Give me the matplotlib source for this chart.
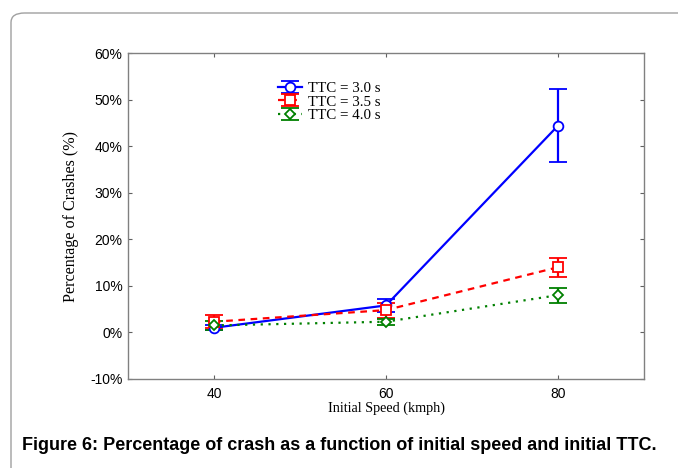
import matplotlib
matplotlib.use("Agg")
import matplotlib.pyplot as plt
from matplotlib.patches import FancyBboxPatch
from matplotlib.ticker import FuncFormatter
from matplotlib.legend_handler import HandlerErrorbar
from matplotlib.container import ErrorbarContainer

# Crash percentage by initial speed for three initial TTC values
speeds = [40, 60, 80]
labels = ["TTC = 3.0 s", "TTC = 3.5 s", "TTC = 4.0 s"]
ttc30 = [1.0, 5.8, 44.4]
ttc30_err = [0.5, 1.4, 7.9]
ttc35 = [2.3, 4.8, 14.0]
ttc35_err = [1.4, 1.6, 2.0]
ttc40 = [1.5, 2.3, 8.0]
ttc40_err = [1.0, 0.6, 1.6]

yticks = [-10, 0, 10, 20, 30, 40, 50, 60]
xticks = [40, 60, 80]

fig = plt.figure(figsize=(6.78, 4.68), dpi=100)

# rounded panel border around the figure
panel = FancyBboxPatch((11 / 678, -0.1), 1.2, 1.1 - 13 / 468,
                       boxstyle="round,pad=0,rounding_size=0.02",
                       transform=fig.transFigure, fill=False,
                       edgecolor="#a0a0a0", linewidth=1.0, zorder=0)
fig.patches.append(panel)

ax = fig.add_axes([128 / 678, (468 - 379) / 468, (644 - 128) / 678, (379 - 53) / 468])

common = dict(capsize=6.5, elinewidth=1.6, capthick=1.6, linewidth=1.6,
              markerfacecolor="white", markeredgewidth=1.3)
ax.errorbar(speeds, ttc30, yerr=ttc30_err, color="#0000ff", linestyle="-",
            marker="o", markersize=7, label=labels[0], **common)
ax.errorbar(speeds, ttc35, yerr=ttc35_err, color="#ff0000", linestyle=(0, (3, 2.5)),
            marker="s", markersize=7, label=labels[1], **common)
ax.errorbar(speeds, ttc40, yerr=ttc40_err, color="#008000", linestyle=(0, (1, 2.5)),
            marker="D", markersize=5.5, label=labels[2], **common)

ax.set_xlim(30, 90)
ax.set_ylim(-10, 60)
ax.set_xticks(xticks)
ax.set_yticks(yticks)
ax.yaxis.set_major_formatter(FuncFormatter(lambda v, p: f"{v:.0f}%"))

for s in ax.spines.values():
    s.set_color("#808080")
    s.set_linewidth(1.0)
ax.tick_params(direction="in", length=3, width=0.8, color="#606060",
               top=True, right=True, labelsize=10, labelcolor="black")
ax.tick_params(axis="x", pad=6)
ax.tick_params(axis="y", pad=4)
for lab in ax.get_xticklabels() + ax.get_yticklabels():
    lab.set_fontfamily("Liberation Sans")

ax.set_xlabel("Initial Speed (kmph)", fontfamily="Liberation Serif",
              fontsize=10.2, labelpad=0)
ax.set_ylabel("Percentage of Crashes (%)", fontfamily="Liberation Serif",
              fontsize=11.6, labelpad=8)

leg = ax.legend(loc="upper left", bbox_to_anchor=(0.29, 0.912), frameon=False,
                prop={"family": "Liberation Serif", "size": 10.8},
                handlelength=1.6, handletextpad=0.4, labelspacing=0.0,
                borderpad=0, borderaxespad=0,
                handler_map={ErrorbarContainer: HandlerErrorbar(yerr_size=0.4)})

fig.text(22 / 678, 1 - 445 / 468,
         "Figure 6: Percentage of crash as a function of initial speed and initial TTC.",
         fontfamily="Liberation Sans", fontweight="bold", fontsize=13.0,
         va="center", ha="left")

fig.savefig("out.png", dpi=100)
